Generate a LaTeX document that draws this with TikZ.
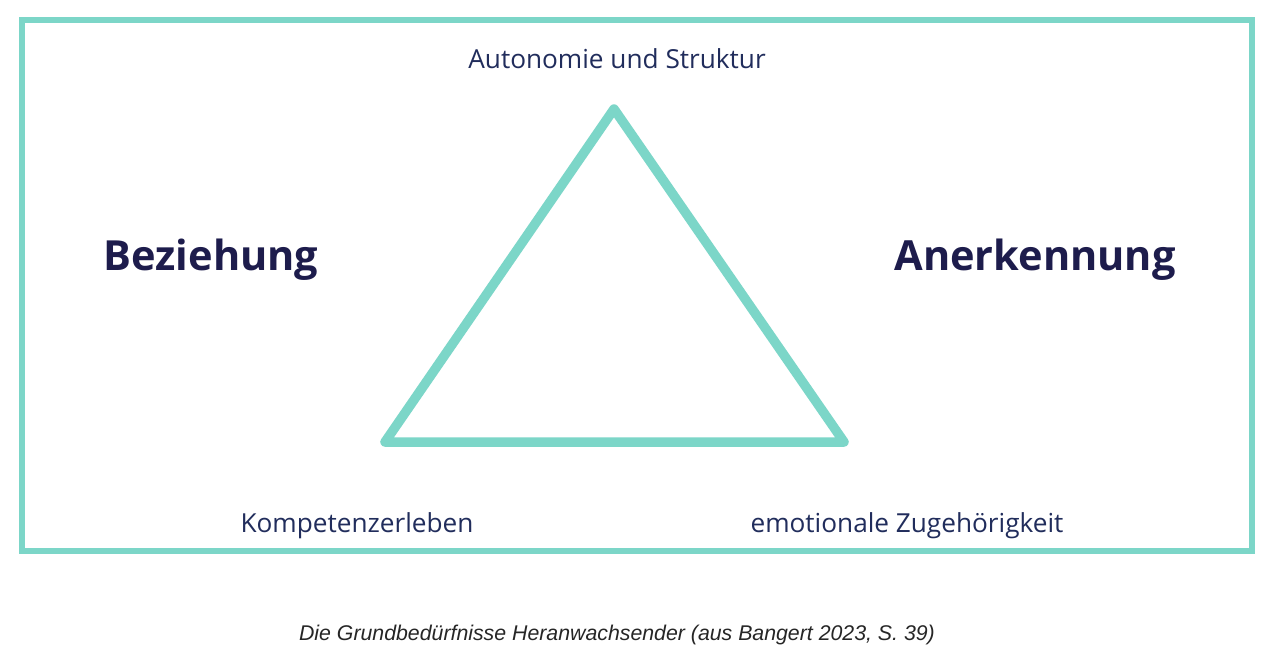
\documentclass[tikz,border=0pt]{standalone}
\usepackage{fontspec}
\setmainfont{Open Sans}
\newfontfamily\capfont{Liberation Sans}
\definecolor{teal1}{RGB}{124,214,200}
\definecolor{navy1}{RGB}{33,45,92}
\definecolor{navy2}{RGB}{29,28,76}
\begin{document}
\begin{tikzpicture}[x=1pt,y=-1pt,
  smalltext/.style={font=\fontsize{26.2}{30}\selectfont, text=navy1, inner sep=0pt, anchor=base},
  bigtext/.style={font=\fontsize{41.5}{48}\selectfont\bfseries, text=navy2, inner sep=0pt, anchor=base},
  captext/.style={font=\capfont\fontsize{21.3}{25}\selectfont\itshape, text=black!85, inner sep=0pt, anchor=base}]
\useasboundingbox[fill=white] (0,0) rectangle (1280,657);
\draw[teal1, line width=6pt] (21.5,19.5) rectangle (1251.5,551);
\coordinate (top) at (614,109);
\coordinate (bl) at (385,442);
\coordinate (br) at (844,442);
\draw[teal1, line width=9.5pt, line join=round, line cap=round] (top) -- (br) -- (bl) -- cycle;
\node[smalltext] (aut) at (617,68) {Autonomie und Struktur};
\node[bigtext] (bez) at (211,270) {Beziehung};
\node[bigtext] (ane) at (1035,270) {Anerkennung};
\node[smalltext] (kom) at (357,532) {Kompetenzerleben};
\node[smalltext] (emo) at (907,532) {emotionale Zugehörigkeit};
\node[captext] (capt) at (617,640) {Die Grundbedürfnisse Heranwachsender (aus Bangert 2023, S. 39)};
\end{tikzpicture}
\end{document}
